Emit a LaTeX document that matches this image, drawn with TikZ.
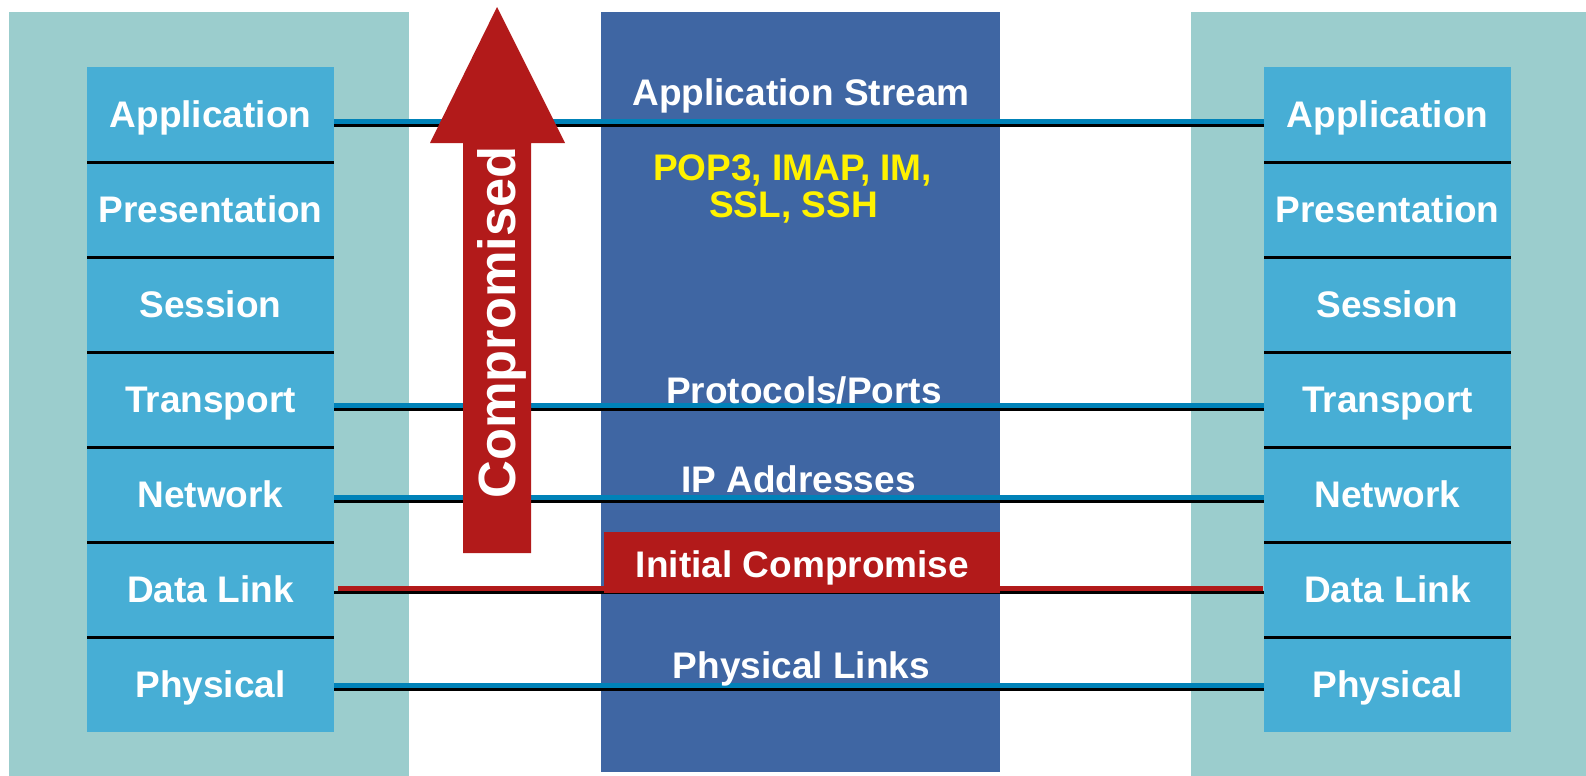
\documentclass[tikz,border=0pt]{standalone}
\usepackage{fontspec}
\setmainfont{Liberation Sans}
\usetikzlibrary{calc}
\definecolor{panel}{RGB}{155,205,205}
\definecolor{layerblue}{RGB}{71,174,213}
\definecolor{midblue}{RGB}{63,102,163}
\definecolor{alertred}{RGB}{178,26,26}
\definecolor{linkblue}{RGB}{0,130,184}
\begin{document}
\begin{tikzpicture}[x=0.5pt,y=-0.5pt,
  layer/.style={fill=layerblue, minimum width=123.5pt, minimum height=47.5pt, inner sep=0pt, outer sep=0pt,
    text height=14pt, text depth=1.5pt,
    text=white, font=\fontsize{18.5pt}{22pt}\selectfont\bfseries},
  label/.style={text=white, inner sep=0pt, anchor=base, font=\fontsize{18.5pt}{22pt}\selectfont\bfseries},
  divider/.style={black, line width=1.5pt},
  blackline/.style={black, line width=1.5pt},
  blueline/.style={linkblue, line width=2.5pt},
  redline/.style={alertred, line width=2.5pt}]
\useasboundingbox (0,0) rectangle (1586,776);
% background panels
\fill[panel] (9,12) rectangle (409,776);
\fill[panel] (1191,12) rectangle (1586,776);
\fill[midblue] (601,12) rectangle (1000,772);
% layer stacks
\foreach \n/\t [count=\i from 0] in {App/Application, Pre/Presentation, Ses/Session, Tra/Transport, Net/Network, Dat/Data Link, Phy/Physical} {
  \node[layer] (l\n) at (210.5, {114.5+95*\i}) {\t};
  \node[layer] (r\n) at (1387.5, {114.5+95*\i}) {\t};
}
\foreach \n in {App, Pre, Ses, Tra, Net, Dat} {
  \draw[divider] (l\n.south west) -- (l\n.south east);
  \draw[divider] (r\n.south west) -- (r\n.south east);
}
% connectors between peer layers
\draw[blackline] ($(lApp.east)+(0,10.5)$) -- ($(rApp.west)+(0,10.5)$);
\draw[blueline]  ($(lApp.east)+(0,6.5)$) -- ($(rApp.west)+(0,6.5)$);
\draw[blackline] ($(lTra.east)+(0,10)$) -- ($(rTra.west)+(0,10)$);
\draw[blueline]  ($(lTra.east)+(0,5.5)$) -- ($(rTra.west)+(0,5.5)$);
\draw[blackline] ($(lNet.east)+(0,7)$) -- ($(rNet.west)+(0,7)$);
\draw[blueline]  ($(lNet.east)+(0,2.5)$) -- ($(rNet.west)+(0,2.5)$);
\draw[blackline] ($(lDat.east)+(0,3)$) -- ($(rDat.west)+(0,3)$);
\draw[redline]   ($(lDat.east)+(4,-1.5)$) -- ($(rDat.west)+(-1,-1.5)$);
\draw[blackline] ($(lPhy.east)+(0,5)$) -- ($(rPhy.west)+(0,5)$);
\draw[blueline]  ($(lPhy.east)+(0,0.5)$) -- ($(rPhy.west)+(0,0.5)$);
% big arrow
\fill[alertred] (463,553) -- (463,143) -- (430,143) -- (497,7) -- (565,143) -- (531,143) -- (531,553) -- cycle;
\node[text=white, inner sep=0pt, rotate=90, anchor=base, font=\fontsize{26.2pt}{30pt}\selectfont\bfseries] (comp) at (515,322.5) {Compromised};
% middle texts
\node[label] (stream) at (801,105) {Application Stream};
\node[label, text=yellow] (protos1) at (792.5,180) {POP3, IMAP, IM,};
\node[label, text=yellow] (protos2) at (793.5,217) {SSL, SSH};
\node[label] (ports) at (804,403) {Protocols/Ports};
\node[label] (ip) at (798.5,492.5) {IP Addresses};
\node[fill=alertred, minimum width=198pt, minimum height=30.5pt, inner sep=0pt] (init) at (802,562.5) {};
\node[label] (initlabel) at (802.5,577) {Initial Compromise};
\node[label] (phys) at (801.5,678) {Physical Links};
\end{tikzpicture}
\end{document}
